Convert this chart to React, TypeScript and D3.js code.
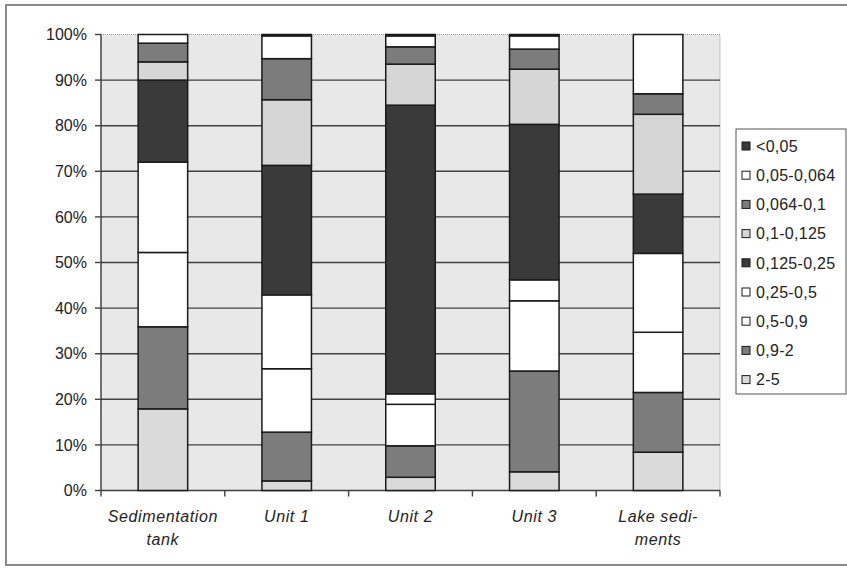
import React from "react";
import * as d3 from "d3";

const categories = ["Sedimentation tank", "Unit 1", "Unit 2", "Unit 3", "Lake sediments"];
const categoryLines = [["Sedimentation", "tank"], ["Unit 1"], ["Unit 2"], ["Unit 3"], ["Lake sedi-", "ments"]];

// series listed bottom of stack first
const seriesNames = ["2-5", "0,9-2", "0,5-0,9", "0,25-0,5", "0,125-0,25", "0,1-0,125", "0,064-0,1", "0,05-0,064", "<0,05"];
const s2_5 = [17.9, 2.1, 2.9, 4.1, 8.4];
const s09_2 = [18.0, 10.7, 6.9, 22.1, 13.1];
const s05_09 = [16.3, 13.9, 9.1, 15.4, 13.2];
const s025_05 = [19.8, 16.2, 2.3, 4.6, 17.3];
const s0125_025 = [18.0, 28.4, 63.3, 34.1, 13.0];
const s01_0125 = [4.0, 14.4, 9.0, 12.1, 17.5];
const s0064_01 = [4.1, 9.0, 3.8, 4.4, 4.5];
const s005_0064 = [1.9, 5.0, 2.4, 2.9, 13.0];
const sLt005 = [0.0, 0.3, 0.3, 0.3, 0.0];
const seriesValues = [s2_5, s09_2, s05_09, s025_05, s0125_025, s01_0125, s0064_01, s005_0064, sLt005];
const seriesFills = ["#dadada", "#7c7c7c", "#ffffff", "#ffffff", "#3a3a3a", "#d6d6d6", "#7c7c7c", "#ffffff", "#3a3a3a"];
const yTicks = [0, 10, 20, 30, 40, 50, 60, 70, 80, 90, 100];

export default function App() {
  const W = 847, H = 570;
  const left = 101, right = 720, top = 34.5, bottom = 490.5;
  const x = d3.scaleBand<string>().domain(categories).range([left, right]).paddingInner(0.6).paddingOuter(0.3);
  const xTickScale = d3.scaleLinear().domain([0, categories.length]).range([left, right]);
  const y = d3.scaleLinear().domain([0, 100]).range([bottom, top]);

  const rows = categories.map((c, i) => {
    const r: any = { cat: c };
    seriesNames.forEach((s, j) => (r[s] = seriesValues[j][i]));
    return r;
  });
  const stacked = d3.stack<any>().keys(seriesNames)(rows);
  const font = "'Liberation Sans', Arial, sans-serif";
  const legendOrder = [...seriesNames.keys()].reverse();

  return (
    <svg width={W} height={H} style={{ position: "absolute", left: 0, top: 0 }}>
      <rect x={0} y={0} width={W} height={H} fill="#ffffff" />
      <rect x={6} y={5} width={850} height={560} fill="none" stroke="#8a8a8a" strokeWidth={2} />
      <rect x={left} y={top} width={right - left} height={bottom - top} fill="#e8e8e8" stroke="#9a9a9a" strokeWidth={1} strokeDasharray="1,1" />
      {yTicks.map((t) => (
        <g key={t}>
          {t > 0 && t < 100 && <line x1={left} x2={right} y1={y(t)} y2={y(t)} stroke="#404040" strokeWidth={1.4} />}
          <line x1={left - 6} x2={left} y1={y(t)} y2={y(t)} stroke="#404040" strokeWidth={1.4} />
          <text x={left - 14} y={y(t)} dy="0.36em" textAnchor="end" fontFamily={font} fontSize={16} fill="#222">{t}%</text>
        </g>
      ))}
      <line x1={left} x2={left} y1={top} y2={bottom} stroke="#404040" strokeWidth={1.4} />
      <line x1={left} x2={right} y1={bottom} y2={bottom} stroke="#404040" strokeWidth={1.4} />
      {d3.range(categories.length + 1).map((i) => (
        <line key={i} x1={xTickScale(i)} x2={xTickScale(i)} y1={bottom} y2={bottom + 6} stroke="#404040" strokeWidth={1.4} />
      ))}
      {stacked.map((layer, j) => (
        <g key={layer.key}>
          {layer.map((d, i) => (
            d[1] - d[0] > 0 ? (
              <rect key={i} x={x(categories[i])} width={x.bandwidth()} y={y(d[1])} height={y(d[0]) - y(d[1])}
                fill={seriesFills[j]} stroke="#1a1a1a" strokeWidth={1.5} />
            ) : null
          ))}
        </g>
      ))}
      {categories.map((c, i) => (
        <text key={c} x={(x(c) as number) + x.bandwidth() / 2} y={522} textAnchor="middle" fontFamily={font} fontSize={16} fontStyle="italic" letterSpacing={0.6} fill="#222">
          {categoryLines[i].map((l, k) => (
            <tspan key={k} x={(x(c) as number) + x.bandwidth() / 2} dy={k === 0 ? 0 : 23}>{l}</tspan>
          ))}
        </text>
      ))}
      <rect x={736} y={129} width={110} height={265} fill="#ffffff" stroke="#555" strokeWidth={1} />
      {legendOrder.map((j, k) => {
        const cy = 146 + k * 29.2;
        return (
          <g key={j}>
            <rect x={742} y={cy - 4} width={8} height={8} fill={seriesFills[j]} stroke="#1a1a1a" strokeWidth={1} />
            <text x={756} y={cy} dy="0.36em" fontFamily={font} fontSize={16} letterSpacing={0.3} fill="#222">{seriesNames[j]}</text>
          </g>
        );
      })}
    </svg>
  );
}
